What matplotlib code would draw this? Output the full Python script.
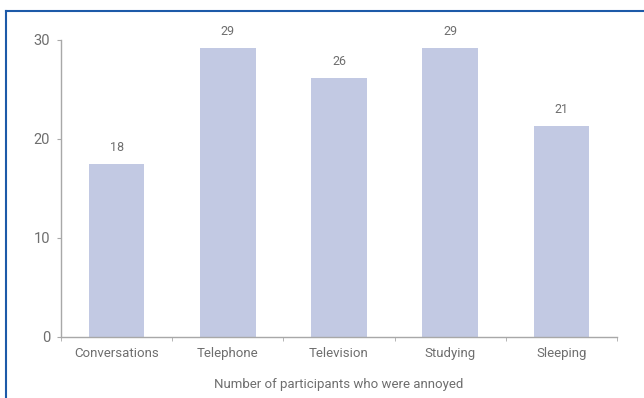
import matplotlib
matplotlib.use('Agg')
import matplotlib.pyplot as plt
from matplotlib import font_manager
from matplotlib.lines import Line2D
import numpy as np

categories = ['Conversations', 'Telephone', 'Television', 'Studying', 'Sleeping']
heights = [17.5, 29.2, 26.2, 29.2, 21.3]
value_labels = ['18', '29', '26', '29', '21']
yticks = [0, 10, 20, 30]
xlabel = 'Number of participants who were annoyed'

names = {f.name for f in font_manager.fontManager.ttflist}
fam = 'Liberation Sans Narrow' if 'Liberation Sans Narrow' in names else 'Roboto'
plt.rcParams['font.family'] = [fam, 'DejaVu Sans']

txt = '#6e6e6e'
axis_col = '#a8a8a8'
bar_col = '#c2c9e3'

fig = plt.figure(figsize=(6.44, 3.98), dpi=100)
ax = fig.add_axes([0.0947, 0.1533, 0.8634, 0.7462])

x = np.arange(len(categories))
bars = ax.bar(x, heights, width=0.5, color=bar_col, zorder=2)
for b, lab in zip(bars, value_labels):
    ax.annotate(lab, (b.get_x() + b.get_width() / 2, b.get_height()),
                xytext=(0, 7), textcoords='offset points', ha='center', va='bottom',
                fontsize=9, color=txt)

ax.set_xlim(-0.5, len(categories) - 0.5)
ax.set_ylim(0, 30)
ax.set_yticks(yticks)
ax.set_xticks(x)
ax.set_xticklabels(categories)
ax.set_xticks(np.arange(-0.5, len(categories)), minor=True)
ax.tick_params(axis='x', which='major', length=0, pad=7, labelsize=9.5, labelcolor=txt)
ax.tick_params(axis='x', which='minor', length=3, color=axis_col, direction='out')
ax.tick_params(axis='y', length=3, color=axis_col, pad=5, labelsize=10.5, labelcolor=txt)
ax.set_xlabel(xlabel, fontsize=9.5, color=txt, labelpad=13)

for s in ['top', 'right']:
    ax.spines[s].set_visible(False)
for s in ['left', 'bottom']:
    ax.spines[s].set_color(axis_col)
    ax.spines[s].set_linewidth(1.0)

# blue frame (top and left only visible)
blue = '#1d5aa8'
fig.add_artist(Line2D([6 / 644, 1], [1 - 11 / 398, 1 - 11 / 398], color=blue, lw=1.5, transform=fig.transFigure))
fig.add_artist(Line2D([6 / 644, 6 / 644], [0, 1 - 11 / 398], color=blue, lw=1.5, transform=fig.transFigure))

fig.savefig('out.png', dpi=100)
